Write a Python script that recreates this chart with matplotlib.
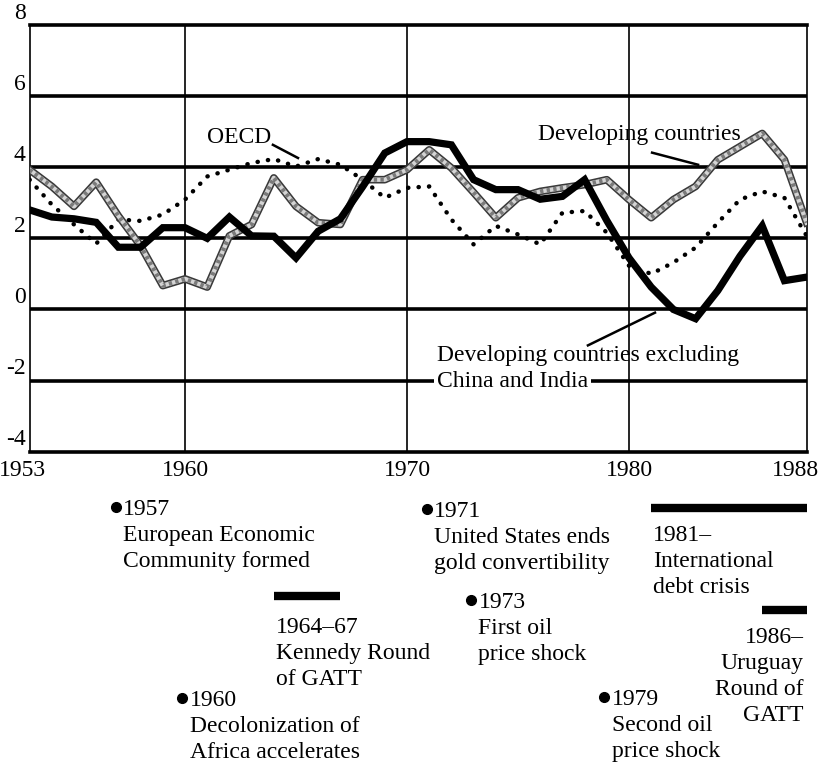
import matplotlib.pyplot as plt
import numpy as np

plt.rcParams['font.family'] = ['Liberation Serif', 'DejaVu Serif']
FS = 17
LS = 1.32

# annual growth, per cent
years = list(range(1953, 1989))
dev_excl = [2.8, 2.6, 2.55, 2.45, 1.75, 1.75, 2.3, 2.3, 2.0, 2.6, 2.07, 2.06, 1.45, 2.2, 2.55,
            3.45, 4.4, 4.72, 4.72, 4.63, 3.65, 3.37, 3.37, 3.1, 3.18, 3.65, 2.5, 1.45, 0.63,
            0.0, -0.26, 0.53, 1.5, 2.35, 0.81, 0.91]
dev_all = [3.93, 3.46, 2.9, 3.58, 2.63, 1.79, 0.67, 0.86, 0.63, 2.07, 2.39, 3.7, 2.9, 2.44, 2.39,
           3.65, 3.65, 3.93, 4.49, 3.98, 3.29, 2.58, 3.14, 3.32, 3.42, 3.51, 3.65, 3.09, 2.58,
           3.09, 3.46, 4.21, 4.58, 4.95, 4.21, 2.44]
oecd = [3.65, 2.95, 2.39, 1.85, 2.53, 2.49, 2.67, 3.09, 3.74, 3.93, 4.12, 4.23, 4.02, 4.23, 4.07,
        3.65, 3.14, 3.42, 3.46, 2.53, 1.83, 2.35, 2.11, 1.83, 2.72, 2.77, 2.16, 1.23, 1.0,
        1.32, 1.74, 2.44, 3.09, 3.32, 3.14, 2.07]

ytick_vals = [-4, -2, 0, 2, 4, 6, 8]
xtick_vals = [1953, 1960, 1970, 1980, 1988]

# timeline events below the chart
point_years = [1957, 1971, 1973, 1960, 1979]
point_texts = ['1957\nEuropean Economic\nCommunity formed',
               '1971\nUnited States ends\ngold convertibility',
               '1973\nFirst oil\nprice shock',
               '1960\nDecolonization of\nAfrica accelerates',
               '1979\nSecond oil\nprice shock']
point_rows = [507, 509, 600, 698, 697]   # pixel rows (layout)

range_start = [1964, 1981, 1986]
range_end = [1967, 1988, 1988]
range_texts = ['1964\u201367\nKennedy Round\nof GATT',
               '1981\u2013\nInternational\ndebt crisis',
               '1986\u2013\nUruguay\nRound of\nGATT']
range_rows = [596, 508, 610]

W, H = 820, 766
fig = plt.figure(figsize=(W / 100, H / 100), dpi=100)
x0, x1 = 29.6, 806.6
y_top, y_bot = 25, 451.7
ax = fig.add_axes([x0 / W, 1 - y_bot / H, (x1 - x0) / W, (y_bot - y_top) / H])
ax.set_xlim(1953, 1988)
ax.set_ylim(-4, 8)
ax.set_xticks([])
ax.set_yticks([])
for s in ['left', 'right']:
    ax.spines[s].set_linewidth(1.2)
for s in ['top', 'bottom']:
    ax.spines[s].set_linewidth(2.6)

for v in ytick_vals[1:-1]:
    ax.axhline(v, color='black', lw=2.6, zorder=1)
for yr in xtick_vals[1:-1]:
    ax.axvline(yr, color='black', lw=1.2, zorder=1)

# OECD dotted
ax.plot(years, oecd, color='black', lw=3.2, ls=(0, (0.05, 2.3)),
        dash_capstyle='round', zorder=3)
# developing countries, patterned line
ax.plot(years, dev_all, color='#3a3a3a', lw=5.5, zorder=4, solid_joinstyle='round')
ax.plot(years, dev_all, color='#d4d4d4', lw=3.2, zorder=4, solid_joinstyle='round')
ax.plot(years, dev_all, color='#7a7a7a', lw=3.0, ls=(0, (0.8, 0.8)), zorder=4)
# developing excluding China and India
ax.plot(years, dev_excl, color='black', lw=5.2, zorder=5, solid_joinstyle='miter')

# y labels
for v in ytick_vals:
    ax.annotate(str(v), (1953, v), xytext=(-3, 1), textcoords='offset points',
                ha='right', va='bottom', fontsize=FS, annotation_clip=False)
# x labels
for yr in xtick_vals:
    ha = 'left' if yr == 1953 else ('right' if yr == 1988 else 'center')
    dx = -22 if yr == 1953 else (9 if yr == 1988 else 0)
    ax.annotate(str(yr), (yr, -4), xytext=(dx, -6), textcoords='offset points',
                ha=ha, va='top', fontsize=FS, annotation_clip=False)

# series labels
ax.text(1962.45, 4.85, 'OECD', fontsize=FS, ha='center', va='center')
ax.plot([1963.96, 1965.09], [4.63, 4.26], color='black', lw=1.8)
ax.text(1980.47, 4.92, 'Developing countries', fontsize=FS, ha='center', va='center')
ax.plot([1981.04, 1983.11], [4.41, 4.07], color='black', lw=1.8)
ax.text(1971.36, -1.3, 'Developing countries excluding', fontsize=FS, ha='left', va='center')
ax.text(1971.36, -2.03, 'China and India', fontsize=FS, ha='left', va='center', zorder=6,
        bbox=dict(facecolor='white', edgecolor='none', pad=2))
ax.plot([1978.15, 1981.17], [-1.01, -0.09], color='black', lw=1.8, zorder=6)

# timeline axes below, rows in pixels
tx = fig.add_axes([x0 / W, 0, (x1 - x0) / W, 1 - 455 / H])
tx.set_xlim(1953, 1988)
tx.set_ylim(H, 455)
tx.axis('off')

for yr, txt, row in zip(point_years, point_texts, point_rows):
    tx.plot(yr - 0.12, row, 'o', color='black', ms=7, clip_on=False)
    tx.annotate(txt, (yr, row), xytext=(3.5, 6), textcoords='offset points',
                ha='left', va='top', fontsize=FS, linespacing=LS, annotation_clip=False)

for a, b, txt, row in zip(range_start, range_end, range_texts, range_rows):
    tx.plot([a, b], [row, row], color='black', lw=6, solid_capstyle='butt', clip_on=False)
    if b == 1988 and a == 1986:
        tx.annotate(txt, (b, row), xytext=(-2, -12), textcoords='offset points',
                    ha='right', va='top', fontsize=FS, linespacing=LS, multialignment='right',
                    annotation_clip=False)
    elif a == 1964:
        tx.annotate(txt, (a, row), xytext=(1.5, -15), textcoords='offset points',
                    ha='left', va='top', fontsize=FS, linespacing=LS, annotation_clip=False)
    else:
        tx.annotate(txt, (a, row), xytext=(1.5, -12), textcoords='offset points',
                    ha='left', va='top', fontsize=FS, linespacing=LS, annotation_clip=False)

fig.savefig('out.png', dpi=100)
